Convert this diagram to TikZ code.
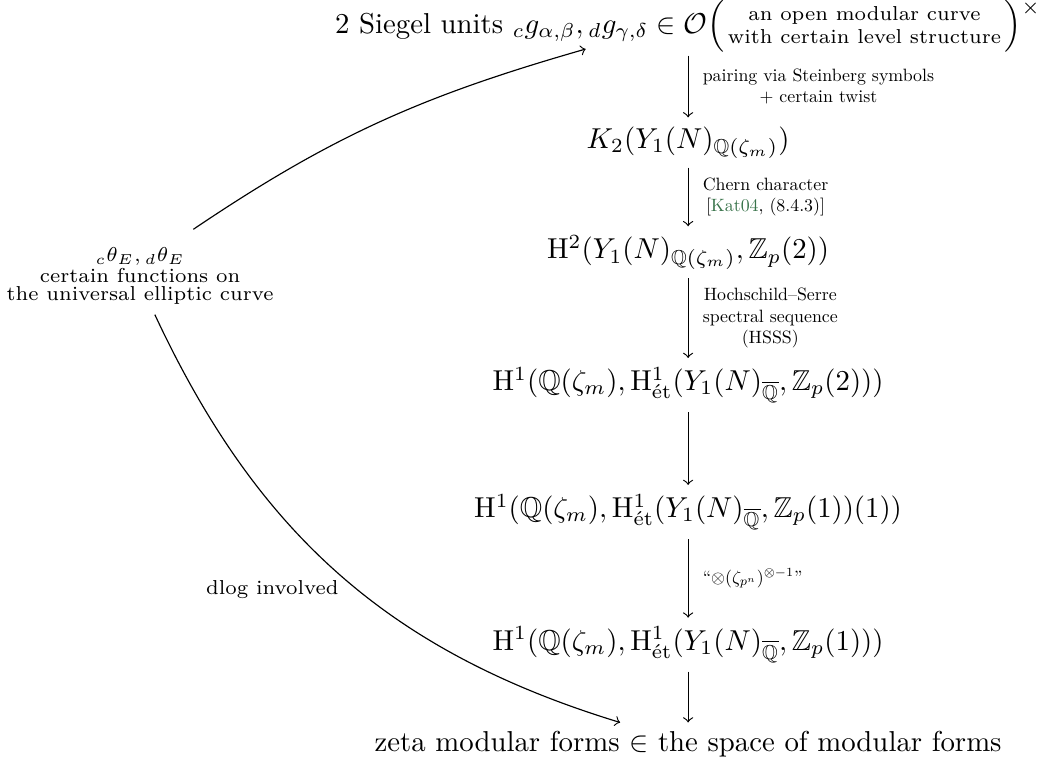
\documentclass[tikz,border=0pt]{standalone}
\usepackage{amsmath,amssymb}
\usetikzlibrary{positioning}
\definecolor{citegreen}{rgb}{0.22,0.45,0.29}

\begin{document}
\begin{tikzpicture}[
    node distance=1.5cm,
    obj/.style={inner sep=3pt},
    lbl/.style={right, align=center, scale=0.62, inner sep=8pt},
    arrow/.style={->}
]
    \useasboundingbox (0,0) rectangle (12.72,-9.30);

    \node[obj, inner sep=1pt] (siegel) at (8.40,-0.32) {2 Siegel units ${}_cg_{\alpha,\beta}, {}_dg_{\gamma,\delta} \in \mathcal{O}\Bigl(\genfrac{}{}{0pt}{1}{\text{an open modular curve}}{\text{with certain level structure}}\Bigr)^{\raisebox{-2pt}{$\scriptstyle\times$}}$};
    \node[obj, below of=siegel, yshift=0.08cm] (ktwo) {$K_2(Y_1(N)_{\mathbb{Q}(\zeta_m)})$};
    \node[obj, below of=ktwo, yshift=0.16cm] (htwo) {$\mathrm{H}^2(Y_1(N)_{\mathbb{Q}(\zeta_m)}, \mathbb{Z}_p(2))$};
    \node[obj, below of=htwo, yshift=-0.12cm] (hsss) {$\mathrm{H}^1(\mathbb{Q}(\zeta_m), \mathrm{H}^1_{\text{\'et}}(Y_1(N)_{\overline{\mathbb{Q}}}, \mathbb{Z}_p(2)))$};
    \node[obj, below of=hsss, yshift=-0.05cm] (twist) {$\mathrm{H}^1(\mathbb{Q}(\zeta_m), \mathrm{H}^1_{\text{\'et}}(Y_1(N)_{\overline{\mathbb{Q}}}, \mathbb{Z}_p(1))(1))$};
    \node[obj, below of=twist, yshift=-0.12cm] (untwist) {$\mathrm{H}^1(\mathbb{Q}(\zeta_m), \mathrm{H}^1_{\text{\'et}}(Y_1(N)_{\overline{\mathbb{Q}}}, \mathbb{Z}_p(1)))$};
    \node[obj, below of=untwist, yshift=0.28cm] (zeta) {zeta modular forms $\in$ the space of modular forms};

    \node[align=center, font=\fontsize{7}{6.2}\selectfont] (theta) at (1.71,-3.37) {${}_c\theta_E,{}_d\theta_E$\\certain functions on\\the universal elliptic curve};

    \draw[arrow] (siegel) -- node[lbl] {pairing via Steinberg symbols\\+ certain twist} (ktwo);
    \draw[arrow] (ktwo) -- node[lbl] {Chern character\\{}[\textcolor{citegreen}{Kat04}, (8.4.3)]} (htwo);
    \draw[arrow] (htwo) -- node[lbl] {Hochschild--Serre\\spectral sequence\\(HSSS)} (hsss);
    \draw[arrow] (hsss) -- (twist);
    \draw[arrow] (twist) -- node[lbl] {``$\otimes(\zeta_{p^n})^{\otimes -1}$''} (untwist);
    \draw[arrow] (untwist) -- (zeta);

    \draw[arrow] ([xshift=0.65cm, yshift=0.1cm]theta.north) to[out=34, in=196] ([xshift=-1.25cm, yshift=0.08cm]siegel.south);
    \draw[arrow] ([xshift=0.18cm]theta.south) to[out=-65, in=163] node[midway, below left, inner sep=2pt, xshift=2pt, font=\scriptsize] {dlog involved} ([xshift=-0.83cm]zeta.north);
\end{tikzpicture}
\end{document}
